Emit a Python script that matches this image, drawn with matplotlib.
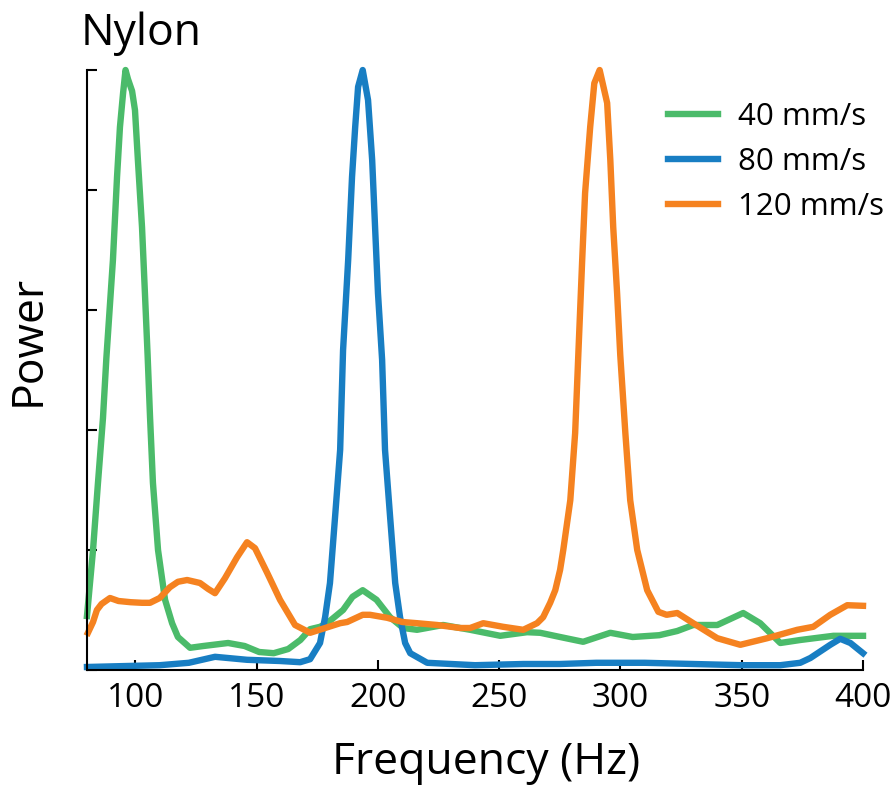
import matplotlib
matplotlib.use('Agg')
import matplotlib.pyplot as plt

plt.rcParams['font.family'] = ['Open Sans', 'DejaVu Sans']

# 40 mm/s
freq_40 = [80.0, 82.5, 84.5, 86.6, 88.0, 90.7, 92.4, 93.6, 94.9, 95.9, 96.9, 98.6, 99.8,
           101.0, 102.7, 103.9, 105.0, 106.0, 107.2, 109.3, 112.2, 115.1, 117.5, 122.5,
           128.0, 138.2, 145.0, 151.0, 157.0, 163.0, 168.0, 172.0, 176.1, 179.0, 185.6,
           189.5, 193.7, 199.4, 205.0, 210.4, 216.1, 226.9, 238.0, 250.4, 261.5, 266.9,
           275.1, 284.6, 295.8, 305.0, 316.0, 323.4, 330.0, 339.9, 350.6, 357.6, 365.9,
           374.1, 387.8, 400.0]
power_40 = [0.09, 0.20, 0.31, 0.42, 0.52, 0.683, 0.822, 0.905, 0.962, 1.0, 0.985, 0.965, 0.933,
            0.85, 0.738, 0.628, 0.525, 0.422, 0.312, 0.20, 0.117, 0.078, 0.055, 0.037,
            0.04, 0.045, 0.04, 0.03, 0.028, 0.035, 0.05, 0.068, 0.072, 0.078, 0.10,
            0.122, 0.133, 0.117, 0.088, 0.07, 0.067, 0.075, 0.067, 0.057, 0.063, 0.062,
            0.055, 0.047, 0.062, 0.055, 0.058, 0.065, 0.075, 0.075, 0.095, 0.078, 0.045,
            0.05, 0.057, 0.057]

# 80 mm/s
freq_80 = [80.0, 110.0, 122.0, 132.8, 146.0, 159.6, 167.9, 172.0, 176.1, 178.2, 180.2, 182.3,
           184.4, 185.6, 187.7, 189.3, 190.6, 191.8, 193.7, 195.9, 197.6, 198.8, 200.0,
           201.7, 202.9, 205.0, 207.1, 209.1, 211.2, 213.3, 220.3, 240.0, 260.0, 275.0,
           290.0, 310.0, 330.0, 350.0, 365.9, 374.1, 378.3, 386.5, 390.6, 394.8, 400.0]
power_80 = [0.005, 0.008, 0.012, 0.022, 0.017, 0.015, 0.013, 0.018, 0.045, 0.088, 0.145, 0.255,
            0.367, 0.533, 0.683, 0.822, 0.905, 0.972, 1.0, 0.95, 0.85, 0.738, 0.628,
            0.517, 0.367, 0.255, 0.145, 0.088, 0.045, 0.028, 0.012, 0.008, 0.01, 0.01,
            0.012, 0.012, 0.01, 0.008, 0.008, 0.012, 0.02, 0.042, 0.052, 0.045, 0.028]

# 120 mm/s
freq_120 = [80.4, 82.5, 84.1, 86.0, 89.5, 93.0, 98.0, 102.7, 106.0, 110.0, 114.2, 117.5,
            121.3, 126.6, 130.0, 132.8, 136.9, 141.9, 146.0, 149.3, 154.3, 159.6, 165.8,
            172.0, 178.2, 184.4, 187.3, 193.7, 196.7, 203.8, 210.0, 216.1, 224.4, 233.9,
            238.0, 243.4, 251.6, 259.9, 265.6, 268.1, 271.0, 273.1, 275.1, 276.4, 279.3,
            281.3, 282.6, 284.2, 285.4, 287.5, 289.2, 291.4, 294.5, 295.8, 297.0, 298.6,
            299.9, 302.0, 304.0, 306.9, 311.0, 315.6, 319.0, 323.4, 330.0, 339.9, 349.4,
            360.5, 372.9, 379.5, 386.5, 393.5, 400.0]
power_120 = [0.062, 0.08, 0.10, 0.11, 0.12, 0.115, 0.113, 0.112, 0.112, 0.12, 0.138, 0.147,
             0.15, 0.145, 0.135, 0.128, 0.153, 0.188, 0.213, 0.203, 0.162, 0.117, 0.075,
             0.062, 0.07, 0.078, 0.08, 0.092, 0.092, 0.087, 0.08, 0.078, 0.075, 0.07,
             0.07, 0.078, 0.072, 0.067, 0.078, 0.088, 0.112, 0.133, 0.167, 0.20, 0.283,
             0.395, 0.525, 0.683, 0.795, 0.905, 0.978, 1.0, 0.945, 0.85, 0.738, 0.628,
             0.525, 0.395, 0.283, 0.20, 0.133, 0.097, 0.092, 0.095, 0.078, 0.053, 0.042,
             0.053, 0.067, 0.072, 0.092, 0.108, 0.107]

labels = ['40 mm/s', '80 mm/s', '120 mm/s']
colors = ['#4bbb6a', '#187ec3', '#f58220']

fig = plt.figure(figsize=(8.92, 7.85), dpi=100)
ax = fig.add_axes([0.0975, 0.1465, 0.87, 0.7643])

for f, p, lab, c in zip([freq_40, freq_80, freq_120], [power_40, power_80, power_120], labels, colors):
    ax.plot(f, p, color=c, lw=4.6, label=lab, solid_joinstyle='round', clip_on=False)

ax.set_xlim(80, 400)
ax.set_ylim(0, 1)
ax.set_xticks([100, 150, 200, 250, 300, 350, 400])
ax.set_yticks([0, 0.2, 0.4, 0.6, 0.8, 1.0])
ax.set_yticklabels([])
ax.tick_params(direction='in', length=7, width=1.5, labelsize=24, pad=9)
for s in ['top', 'right']:
    ax.spines[s].set_visible(False)
for s in ['left', 'bottom']:
    ax.spines[s].set_linewidth(1.5)

ax.set_xlabel('Frequency (Hz)', fontsize=32)
ax.xaxis.set_label_coords(0.514, -0.117)
ax.set_ylabel('Power', fontsize=32)
ax.yaxis.set_label_coords(-0.047, 0.55)
ax.set_title('Nylon', fontsize=32, loc='left', x=-0.008, pad=18)

ax.legend(loc='upper left', bbox_to_anchor=(0.733, 0.968), borderaxespad=0, frameon=False,
          fontsize=22.5, handlelength=1.58, handletextpad=0.65, labelspacing=0.48)

plt.savefig('out.png', dpi=100)
